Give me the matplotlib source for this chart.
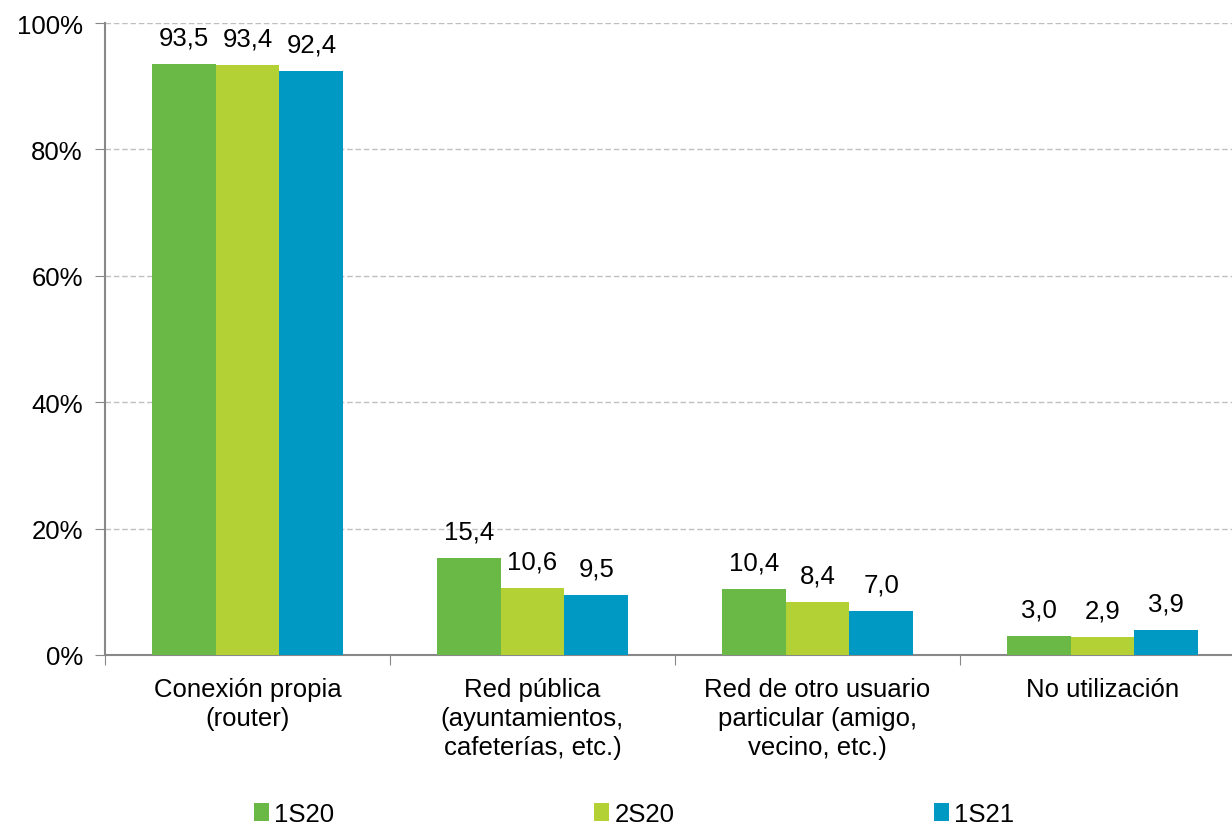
import numpy as np
import matplotlib.pyplot as plt

plt.rcParams['font.family'] = ['Liberation Sans', 'DejaVu Sans']

# data
categories = ['Conexión propia\n(router)',
              'Red pública\n(ayuntamientos,\ncafeterías, etc.)',
              'Red de otro usuario\nparticular (amigo,\nvecino, etc.)',
              'No utilización']
series = ['1S20', '2S20', '1S21']
v_1s20 = [93.5, 15.4, 10.4, 3.0]
v_2s20 = [93.4, 10.6, 8.4, 2.9]
v_1s21 = [92.4, 9.5, 7.0, 3.9]
colors = ['#6ab846', '#b3d135', '#0099c4']

fs = 18.5

fig = plt.figure(figsize=(12.32, 8.28), dpi=100)
ax = fig.add_axes([105/1232, 1-656/828, 1140/1232, (656-24)/828])

x = np.arange(len(categories))
w = 0.224
for i, (vals, name, c) in enumerate(zip([v_1s20, v_2s20, v_1s21], series, colors)):
    pos = x + (i - 1) * w
    ax.bar(pos, vals, w, color=c, label=name, zorder=3)
    for xp, v in zip(pos, vals):
        ax.text(xp, v + 2.3, f'{v:.1f}'.replace('.', ','), ha='center', va='bottom',
                fontsize=fs)

ax.set_xlim(-0.5, len(categories) - 0.5)
ax.set_ylim(0, 100)
ax.set_yticks(range(0, 101, 20))
ax.set_yticklabels([f'{t}%' for t in range(0, 101, 20)], fontsize=fs)
ax.yaxis.grid(True, linestyle=(0, (4, 2)), color='#bfbfbf', linewidth=1, zorder=0)

ax.set_xticks(np.arange(len(categories) + 1) - 0.5)
ax.set_xticklabels([])
ax.set_xticks(x, minor=True)
ax.set_xticklabels(categories, minor=True, fontsize=fs, va='top', linespacing=1.25)
ax.tick_params(axis='x', which='minor', length=0, pad=16)
ax.tick_params(axis='x', which='major', length=7, color='#888888', direction='out')
ax.tick_params(axis='y', length=7, color='#888888', direction='out', pad=9)

for s in ['top', 'right']:
    ax.spines[s].set_visible(False)
for s in ['left', 'bottom']:
    ax.spines[s].set_color('#888888')
    ax.spines[s].set_linewidth(1.5)

fig.legend(loc='center', bbox_to_anchor=(634/1232, 1-815/828), ncol=3, frameon=False,
           fontsize=fs, handlelength=0.6, handleheight=0.7, handletextpad=0.2,
           columnspacing=10.1)

fig.savefig('out.png', dpi=100)
